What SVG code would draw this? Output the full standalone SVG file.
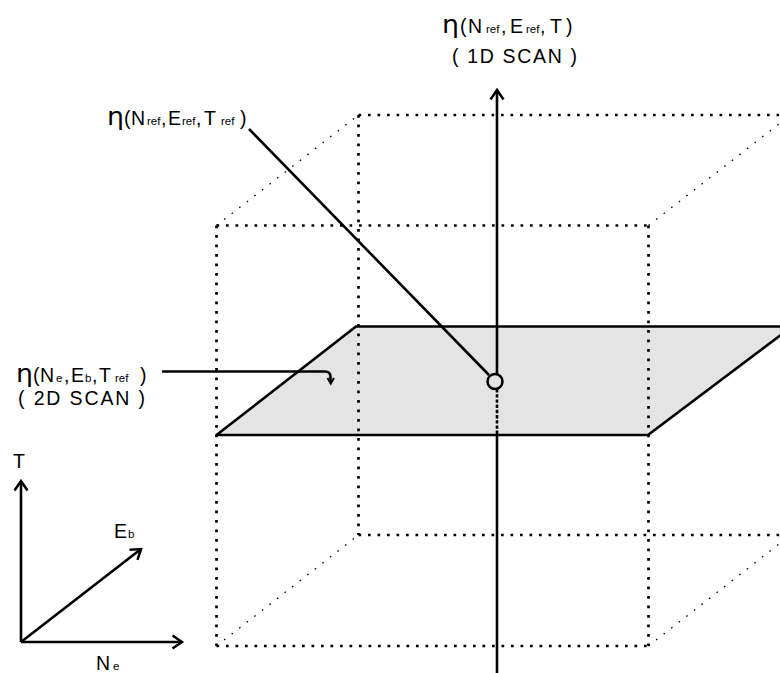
<svg xmlns="http://www.w3.org/2000/svg" width="780" height="673" viewBox="0 0 780 673">
<style>
.dot{fill:none;stroke:#000;stroke-width:2.7;stroke-dasharray:2.7 6.8}
.diag{fill:none;stroke:#000;stroke-width:1.3;stroke-dasharray:1.6 8}
.ln{fill:none;stroke:#000;stroke-width:2.6}
.t{font-family:"Liberation Sans",Arial,sans-serif;font-size:19.5px;fill:#000}
.s{font-size:11.5px}
.eta{font-family:"DejaVu Sans","Liberation Sans",sans-serif;font-size:24px}
</style>
<defs>
<marker id="arr" markerUnits="userSpaceOnUse" markerWidth="16" markerHeight="16" viewBox="0 0 16 16" refX="12" refY="8" orient="auto">
<path d="M2.5,1.5 L12,8 L2.5,14.5" fill="none" stroke="#000" stroke-width="2.5"/>
</marker>
</defs>
<rect width="780" height="673" fill="#fff"/>
<g id="plane">
<polygon points="216.5,435 356,326.5 792,326.5 648,435" fill="#e4e4e4" stroke="#000" stroke-width="2.6" stroke-linejoin="round"/>
</g>
<g id="cube">
<line class="dot" x1="216.5" y1="225.5" x2="650" y2="225.5"/>
<line class="dot" x1="216.5" y1="646" x2="650" y2="646"/>
<line class="dot" x1="216.5" y1="225.5" x2="216.5" y2="646"/>
<line class="dot" x1="648.5" y1="225.5" x2="648.5" y2="646"/>
<line class="dot" x1="358.5" y1="115" x2="790" y2="115"/>
<line class="dot" x1="358.5" y1="535" x2="790" y2="535"/>
<line class="dot" x1="358.5" y1="115" x2="358.5" y2="535"/>
<line class="diag" x1="216.5" y1="225.5" x2="358.5" y2="115"/>
<line class="diag" x1="648.5" y1="225.5" x2="790.5" y2="115"/>
<line class="diag" x1="216.5" y1="646" x2="358.5" y2="535"/>
<line class="diag" x1="648.5" y1="646" x2="790.5" y2="535"/>
</g>
<g id="connectors">
<line class="ln" x1="497" y1="374" x2="497" y2="90" marker-end="url(#arr)"/>
<line class="ln" x1="497" y1="389" x2="497" y2="435" stroke-dasharray="3.4 1.8"/>
<line class="ln" x1="497" y1="435" x2="497" y2="673"/>
<line class="ln" x1="249" y1="129" x2="489" y2="375"/>
<path class="ln" stroke-width="2.2" d="M162,371.5 H325 Q330.5,371.5 330.5,377 V382"/>
<path d="M327.5,378 L330.8,383.5 L334,378" fill="none" stroke="#000" stroke-width="2"/>
</g>
<g id="point">
<circle cx="495" cy="381.5" r="7.5" fill="none" stroke="#000" stroke-width="2.5"/>
</g>
<g id="label-1d">
<text class="t" y="33"><tspan class="eta" x="442" textLength="17" lengthAdjust="spacingAndGlyphs">η</tspan><tspan x="460">(</tspan><tspan x="468">N</tspan><tspan class="s" x="486">ref</tspan><tspan x="501">,</tspan><tspan x="510">E</tspan><tspan class="s" x="526">ref</tspan><tspan x="540">,</tspan><tspan x="550">T</tspan><tspan x="566">)</tspan></text>
<text class="t" x="452" y="63" textLength="125" lengthAdjust="spacing">( 1D SCAN )</text>
</g>
<g id="label-ref">
<text class="t" y="125"><tspan class="eta" x="107" textLength="17" lengthAdjust="spacingAndGlyphs">η</tspan><tspan x="124">(</tspan><tspan x="131">N</tspan><tspan class="s" x="147">ref</tspan><tspan x="161">,</tspan><tspan x="168">E</tspan><tspan class="s" x="182">ref</tspan><tspan x="196">,</tspan><tspan x="204">T</tspan><tspan class="s" x="221">ref</tspan><tspan x="240">)</tspan></text>
</g>
<g id="label-2d">
<text class="t" y="381.5"><tspan class="eta" x="16" textLength="17" lengthAdjust="spacingAndGlyphs">η</tspan><tspan x="33">(</tspan><tspan x="40">N</tspan><tspan class="s" x="56">e</tspan><tspan x="64">,</tspan><tspan x="71">E</tspan><tspan class="s" x="85">b</tspan><tspan x="92">,</tspan><tspan x="99">T</tspan><tspan class="s" x="115">ref</tspan><tspan x="140">)</tspan></text>
<text class="t" x="18" y="405" textLength="127" lengthAdjust="spacing">( 2D SCAN )</text>
</g>
<g id="axes">
<line class="ln" x1="21" y1="642" x2="21" y2="481" marker-end="url(#arr)"/>
<line class="ln" x1="21" y1="642" x2="182" y2="642" marker-end="url(#arr)"/>
<line class="ln" x1="21" y1="642" x2="141" y2="549" marker-end="url(#arr)"/>
<text class="t" x="13" y="468">T</text>
<text class="t" y="538"><tspan x="114">E</tspan><tspan class="s" x="128">b</tspan></text>
<text class="t" y="670"><tspan x="96">N</tspan><tspan class="s" x="113">e</tspan></text>
</g>
</svg>
